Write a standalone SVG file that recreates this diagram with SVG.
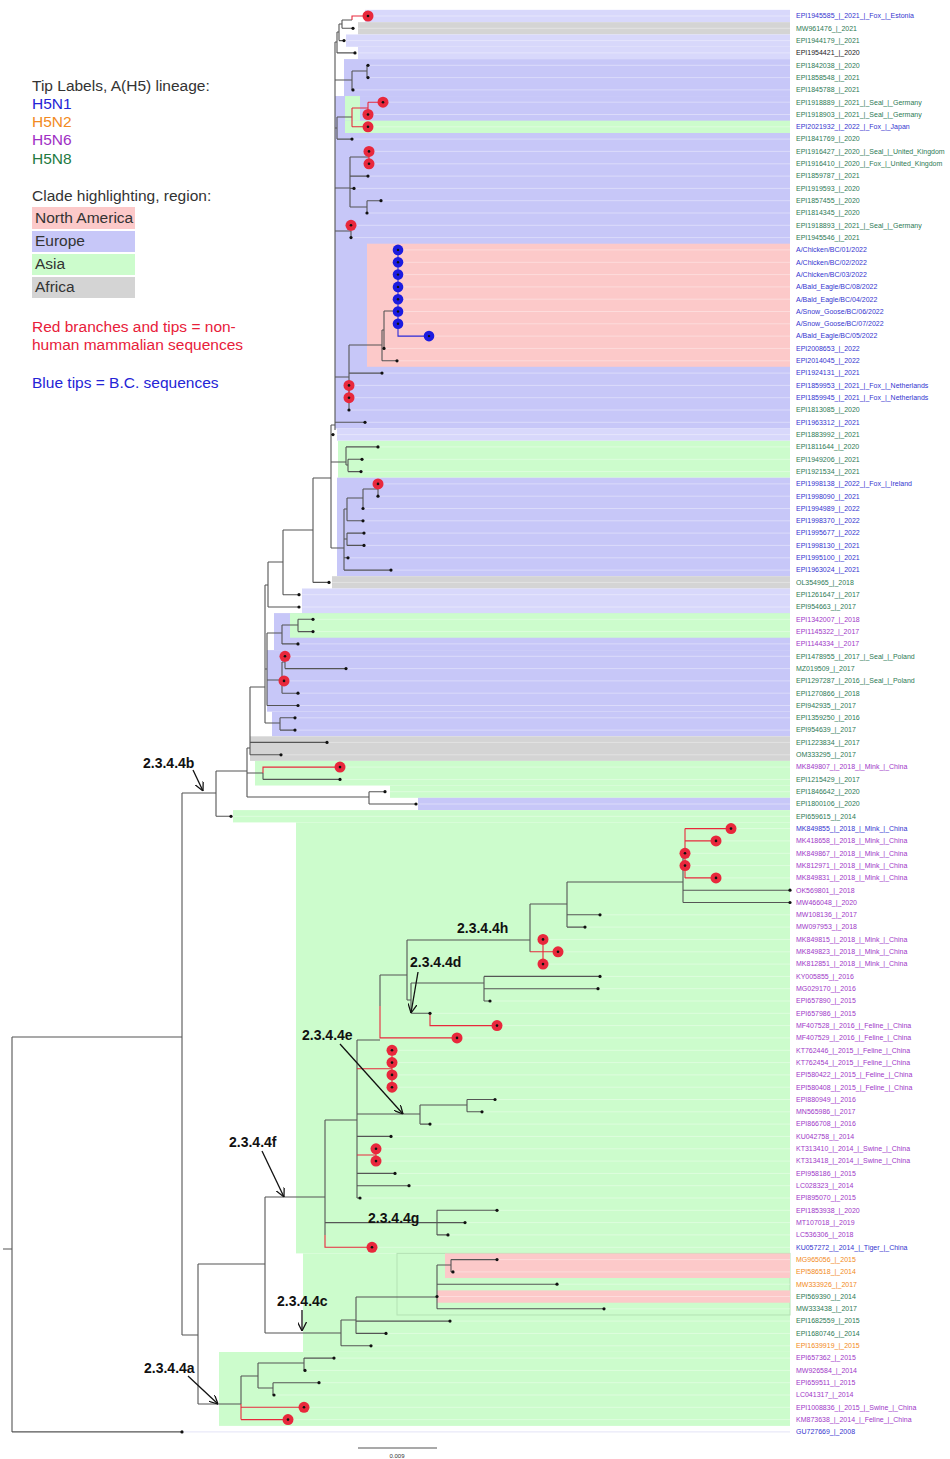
<svg xmlns="http://www.w3.org/2000/svg" width="950" height="1459" viewBox="0 0 950 1459">
<style>
.t{font-family:"Liberation Sans",Arial,sans-serif;font-size:7px}
.lg{font-family:"Liberation Sans",Arial,sans-serif;font-size:15.5px;fill:#333}
.cl{font-family:"Liberation Sans",Arial,sans-serif;font-size:14px;font-weight:bold;fill:#111}
.B{fill:#3535cf}.G{fill:#2e7a55}.P{fill:#a038c8}.O{fill:#f28a22}.K{fill:#222}
.E{fill:#c7c7f8}.L{fill:#d8d8fb}.A{fill:#ccfccc}.N{fill:#fcc9c9}.F{fill:#d4d4d4}
.k{fill:none;stroke:#555;stroke-width:1.1}
.r{fill:none;stroke:#e8283c;stroke-width:1.1}
.bl{fill:none;stroke:#2a2ad8;stroke-width:1.1}
.d{fill:#111}
.rc{fill:#e8283c}
.bc{fill:#1c1ce0}
.ar{fill:none;stroke:#111;stroke-width:1.3}
</style>
<defs>
<marker id="ah" viewBox="0 0 10 10" refX="10" refY="5" markerWidth="9" markerHeight="9" orient="auto" markerUnits="userSpaceOnUse"><path d="M0 0L10 5L0 10" fill="none" stroke="#111" stroke-width="1.4"/></marker>
</defs>
<rect width="950" height="1459" fill="#fff"/>
<g id="bands">
<rect class="L" x="365" y="9.85" width="425" height="12.31"/>
<rect class="F" x="358" y="22.16" width="432" height="12.31"/>
<rect class="L" x="346" y="34.47" width="444" height="12.31"/>
<rect class="L" x="358" y="46.78" width="432" height="12.31"/>
<rect class="E" x="344" y="59.1" width="446" height="36.94"/>
<rect class="E" x="335" y="96.04" width="455" height="332.4"/>
<rect class="A" x="345" y="96.04" width="15" height="24.62"/>
<rect class="A" x="345" y="120.66" width="445" height="12.31"/>
<rect class="N" x="367" y="243.7" width="423" height="123.1"/>
<rect class="L" x="337" y="428.4" width="453" height="12.31"/>
<rect class="A" x="338" y="440.8" width="452" height="36.94"/>
<rect class="E" x="337" y="477.7" width="453" height="98.5"/>
<rect class="F" x="332" y="576.2" width="458" height="12.31"/>
<rect class="L" x="302" y="588.5" width="488" height="24.62"/>
<rect class="E" x="274" y="613.1" width="516" height="36.94"/>
<rect class="A" x="290" y="613.1" width="500" height="24.62"/>
<rect class="E" x="267" y="650.1" width="523" height="61.56"/>
<rect class="E" x="272" y="711.7" width="518" height="24.62"/>
<rect class="F" x="250" y="736.3" width="540" height="24.62"/>
<rect class="A" x="255" y="760.9" width="535" height="24.62"/>
<rect class="A" x="390" y="785.5" width="400" height="12.31"/>
<rect class="E" x="418" y="797.8" width="372" height="12.31"/>
<rect class="A" x="233" y="810.1" width="557" height="12.31"/>
<rect class="A" x="296" y="822.4" width="494" height="431"/>
<rect class="A" x="303" y="1253.4" width="487" height="98.5"/>
<rect x="397" y="1253.4" width="393" height="61.56" fill="none" stroke="#b4e2b4" stroke-width="1"/>
<rect class="N" x="445" y="1253.4" width="345" height="24.62"/>
<rect class="N" x="437" y="1290.4" width="353" height="12.31"/>
<rect class="A" x="219" y="1352" width="571" height="73.9"/>
</g>
<g id="guides" stroke="#fff" stroke-opacity="0.45" stroke-width="0.8">
<path d="M368 16H790M353 28.3H790M344 40.6H790M355 52.9H790M368 65.3H790M368 77.6H790M353 89.9H790M383 102.2H790M368 114.5H790M368 126.8H790M352 139.1H790M369 151.4H790M369 163.8H790M368 176.1H790M354 188.4H790M381 200.7H790M367 213H790M351 225.3H790M351 237.6H790M398 249.9H790M398 262.3H790M398 274.6H790M398 286.9H790M398 299.2H790M398 311.5H790M398 323.8H790M429 336.1H790M384 348.4H790M397 360.8H790M382 373.1H790M349 385.4H790M349 397.7H790M349 410H790M365 422.3H790M333 434.6H790M378 446.9H790M362 459.3H790M361 471.6H790M378 483.9H790M378 496.2H790M363 508.5H790M363 520.8H790M364 533.1H790M364 545.4H790M348 557.8H790M391 570.1H790M329 582.4H790M299 594.7H790M299 607H790M313 619.3H790M313 631.6H790M298 643.9H790M285 656.3H790M346 668.6H790M284 680.9H790M298 693.2H790M298 705.5H790M295 717.8H790M295 730.1H790M327 742.4H790M281 754.8H790M340 767.1H790M340 779.4H790M385 791.7H790M416 804H790M231 816.3H790M731 828.6H790M716 840.9H790M685 853.3H790M685 865.6H790M716 877.9H790M600 914.8H790M585 927.1H790M543 939.4H790M558 951.8H790M543 964.1H790M600 976.4H790M598 988.7H790M490 1001H790M430 1013.3H790M497 1025.6H790M457 1037.9H790M392 1050.3H790M392 1062.6H790M392 1074.9H790M392 1087.2H790M495 1099.5H790M482 1111.8H790M430 1124.1H790M391 1136.4H790M376 1148.8H790M376 1161.1H790M395 1173.4H790M409 1185.7H790M360 1198H790M497 1210.3H790M465 1222.6H790M448 1234.9H790M372 1247.3H790M497 1259.6H790M453 1271.9H790M557 1284.2H790M437 1296.5H790M604 1308.8H790M450 1321.1H790M386 1333.4H790M371 1345.8H790M334 1358.1H790M305 1370.4H790M319 1382.7H790M274 1395H790M304 1407.3H790M288 1419.6H790"/>
<path d="M182 1431.9H790" stroke="#dcdcf4" stroke-opacity="1"/>
</g>
<g id="connectors">
<path class="k" d="M342 20V28.3M342 20H352M342 28.3H353M339 24V40.6M339 24H342M339 40.6H344M337 32V52.9M337 32H339M337 52.9H355M335 42V430M335 42H337M335 80H352M352 71V89.9M352 71H367M367 65.3V77.6M352 89.9H353M335 128H337M337 117V139.1M337 117H352M337 139.1H352M335 188H350M350 157V207M350 157H369M350 176.1H368M350 188.4H354M350 207H367M367 200.7V213M367 200.7H381M335 231H351M351 231V237.6M335 377H349M349 345V410M349 345H382M382 330V360.8M382 330H384M384 311V348.4M384 311H398M382 360.8H397M349 373.1H382M335 422.3H365M331 425V548M331 425H335M331 434.6H333M331 462H346M346 446.9V465M346 446.9H378M346 465H348M348 459.3V471.6M348 459.3H362M348 471.6H361M331 548H344M344 509V570.1M344 509H347M347 498V520.8M347 498H363M363 489V508.5M363 489H378M378 489V496.2M347 520.8H363M344 539H347M347 533.1V545.4M347 533.1H364M347 545.4H364M344 557.8H348M344 570.1H391M313 478V582.4M313 478H331M313 582.4H329M283 530V594.7M283 530H313M283 594.7H299M268 562V607M268 562H283M268 607H299M265 585V723M265 585H268M265 669H267M265 723H280M267 633V705.5M267 633H282M282 625V643.9M282 625H298M298 619.3V631.6M298 619.3H313M298 631.6H313M282 643.9H298M267 680H282M282 662V693.2M282 662H285M285 662V668.6M285 668.6H346M282 693.2H298M267 705.5H298M280 717.8V730.1M280 717.8H295M280 730.1H295M250 687V754.8M250 687H265M250 742.4H327M250 754.8H281M247 748V797M247 748H250M247 773H263M263 773V779.4M263 779.4H340M247 797H369M369 791.7V804M369 791.7H385M369 804H416M216 771V816.3M216 771H247M216 816.3H231M182 793V1335M182 793H216M182 1335H198M12 1037V1431.9M12 1037H182M3 1249H12M12 1431.9H182M198 1264V1404M198 1264H265M198 1404H241M265 1197V1333M265 1197H325M265 1333H341M341 1320V1345.8M341 1320H356M341 1345.8H371M356 1297V1333.4M356 1297H437M356 1321.1H450M356 1333.4H386M437 1265V1308.8M437 1265H451M451 1259.6V1271.9M451 1259.6H497M451 1271.9H453M437 1284.2H557M437 1308.8H604M241 1376V1404M241 1376H258M258 1363V1388M258 1363H304M304 1358.1V1370.4M304 1358.1H334M304 1370.4H305M258 1388H273M273 1382.7V1395M273 1382.7H319M273 1395H274M325 1120V1235M325 1120H357M325 1222.6H437M437 1210.3V1234.9M437 1210.3H497M437 1222.6H465M437 1234.9H448M357 1040V1198M357 1040H380M357 1114H420M420 1105V1124.1M420 1105H467M467 1099.5V1111.8M467 1099.5H495M467 1111.8H482M420 1124.1H430M357 1136.4H391M357 1173.4H395M357 1185.7H409M357 1198H360M380 975V1006M380 975H407M407 940V1000M407 940H530M407 1000H411M411 983V1013.3M411 983H484M484 976.4V1001M484 976.4H600M484 988.7H598M484 1001H490M411 1013.3H430M530 904V951.8M530 904H567M567 882V927.1M567 882H683M683 858V902.5M683 858H685M683 890.2H790M683 902.5H790M567 914.8H600M567 927.1H585"/>
<path class="r" d="M352 20V16H368M352 108V126.8M352 108H368M368 102.2V114.5M368 102.2H383M352 126.8H368M369 151.4V163.8M351 231V225.3M349 385.4V397.7M378 489V483.9M285 662V656.3M282 680.9H284M263 773V767.1H340M241 1404V1419.6M241 1407.3H304M241 1419.6H288M325 1235V1247.3H372M357 1068.7H392M392 1050.3V1087.2M357 1155H376M376 1148.8V1161.1M380 1006V1037.9H457M430 1013.3V1025.6H497M685 828.6V877.9M685 828.6H731M685 840.9H716M685 877.9H716M530 951.8H543M543 939.4V964.1M543 951.8H558"/>
<path class="bl" d="M398 249.9V336.1H429"/>
<path class="k" d="M358 1448H437"/>
<path class="ar" marker-end="url(#ah)" d="M193 770L203 791"/>
<path class="ar" marker-end="url(#ah)" d="M418 972L411 1013"/>
<path class="ar" marker-end="url(#ah)" d="M340 1044L403 1114"/>
<path class="ar" marker-end="url(#ah)" d="M262 1151L284 1197"/>
<path class="ar" marker-end="url(#ah)" d="M302 1310L302 1331"/>
<path class="ar" marker-end="url(#ah)" d="M188 1376L218 1404"/>
</g>
<g id="legend">
<text class="lg" x="32" y="91">Tip Labels, A(H5) lineage:</text>
<text class="lg" x="32" y="109" style="fill:#2424d6">H5N1</text>
<text class="lg" x="32" y="127" style="fill:#f28a22">H5N2</text>
<text class="lg" x="32" y="145" style="fill:#a030c4">H5N6</text>
<text class="lg" x="32" y="164" style="fill:#237a3f">H5N8</text>
<text class="lg" x="32" y="201">Clade highlighting, region:</text>
<rect class="N" x="32" y="207" width="103" height="22"/>
<rect class="E" x="32" y="231" width="103" height="21"/>
<rect class="A" x="32" y="254" width="103" height="21"/>
<rect class="F" x="32" y="277" width="103" height="21"/>
<text class="lg" x="35" y="223">North America</text>
<text class="lg" x="35" y="246">Europe</text>
<text class="lg" x="35" y="269">Asia</text>
<text class="lg" x="35" y="292">Africa</text>
<text class="lg" x="32" y="332" style="fill:#e8203a">Red branches and tips =  non-</text>
<text class="lg" x="32" y="350" style="fill:#e8203a">human mammalian sequences</text>
<text class="lg" x="32" y="388" style="fill:#2424d6">Blue tips = B.C. sequences</text>
</g>
<g id="clades">
<text class="cl" x="143" y="768">2.3.4.4b</text>
<text class="cl" x="457" y="933">2.3.4.4h</text>
<text class="cl" x="410" y="967">2.3.4.4d</text>
<text class="cl" x="302" y="1040">2.3.4.4e</text>
<text class="cl" x="229" y="1147">2.3.4.4f</text>
<text class="cl" x="368" y="1223">2.3.4.4g</text>
<text class="cl" x="277" y="1306">2.3.4.4c</text>
<text class="cl" x="144" y="1373">2.3.4.4a</text>
<text class="t" x="397" y="1458" text-anchor="middle" style="font-size:6px" fill="#333">0.009</text>
</g>
<g id="tips">
<g id="t1"><circle class="rc" cx="368" cy="16" r="5.5"/><circle class="d" cx="368" cy="16" r="1.3"/><text class="t B" x="796" y="18.3">EPI1945585_|_2021_|_Fox_|_Estonia</text></g>
<g id="t2"><circle class="d" cx="353" cy="28.3" r="1.6"/><text class="t G" x="796" y="30.6">MW961476_|_2021</text></g>
<g id="t3"><circle class="d" cx="344" cy="40.6" r="1.6"/><text class="t G" x="796" y="42.9">EPI1944179_|_2021</text></g>
<g id="t4"><circle class="d" cx="355" cy="52.9" r="1.6"/><text class="t K" x="796" y="55.2">EPI1954421_|_2020</text></g>
<g id="t5"><circle class="d" cx="368" cy="65.3" r="1.6"/><text class="t G" x="796" y="67.6">EPI1842038_|_2020</text></g>
<g id="t6"><circle class="d" cx="368" cy="77.6" r="1.6"/><text class="t G" x="796" y="79.9">EPI1858548_|_2021</text></g>
<g id="t7"><circle class="d" cx="353" cy="89.9" r="1.6"/><text class="t G" x="796" y="92.2">EPI1845788_|_2021</text></g>
<g id="t8"><circle class="rc" cx="383" cy="102.2" r="5.5"/><circle class="d" cx="383" cy="102.2" r="1.3"/><text class="t G" x="796" y="104.5">EPI1918889_|_2021_|_Seal_|_Germany</text></g>
<g id="t9"><circle class="rc" cx="368" cy="114.5" r="5.5"/><circle class="d" cx="368" cy="114.5" r="1.3"/><text class="t G" x="796" y="116.8">EPI1918903_|_2021_|_Seal_|_Germany</text></g>
<g id="t10"><circle class="rc" cx="368" cy="126.8" r="5.5"/><circle class="d" cx="368" cy="126.8" r="1.3"/><text class="t B" x="796" y="129.1">EPI2021932_|_2022_|_Fox_|_Japan</text></g>
<g id="t11"><circle class="d" cx="352" cy="139.1" r="1.6"/><text class="t G" x="796" y="141.4">EPI1841769_|_2020</text></g>
<g id="t12"><circle class="rc" cx="369" cy="151.4" r="5.5"/><circle class="d" cx="369" cy="151.4" r="1.3"/><text class="t G" x="796" y="153.7">EPI1916427_|_2020_|_Seal_|_United_Kingdom</text></g>
<g id="t13"><circle class="rc" cx="369" cy="163.8" r="5.5"/><circle class="d" cx="369" cy="163.8" r="1.3"/><text class="t G" x="796" y="166.1">EPI1916410_|_2020_|_Fox_|_United_Kingdom</text></g>
<g id="t14"><circle class="d" cx="368" cy="176.1" r="1.6"/><text class="t G" x="796" y="178.4">EPI1859787_|_2021</text></g>
<g id="t15"><circle class="d" cx="354" cy="188.4" r="1.6"/><text class="t G" x="796" y="190.7">EPI1919593_|_2020</text></g>
<g id="t16"><circle class="d" cx="381" cy="200.7" r="1.6"/><text class="t G" x="796" y="203">EPI1857455_|_2020</text></g>
<g id="t17"><circle class="d" cx="367" cy="213" r="1.6"/><text class="t G" x="796" y="215.3">EPI1814345_|_2020</text></g>
<g id="t18"><circle class="rc" cx="351" cy="225.3" r="5.5"/><circle class="d" cx="351" cy="225.3" r="1.3"/><text class="t G" x="796" y="227.6">EPI1918893_|_2021_|_Seal_|_Germany</text></g>
<g id="t19"><circle class="d" cx="351" cy="237.6" r="1.6"/><text class="t G" x="796" y="239.9">EPI1945546_|_2021</text></g>
<g id="t20"><circle class="bc" cx="398" cy="249.9" r="5.3"/><circle class="d" cx="398" cy="249.9" r="1.2"/><text class="t B" x="796" y="252.2">A/Chicken/BC/01/2022</text></g>
<g id="t21"><circle class="bc" cx="398" cy="262.3" r="5.3"/><circle class="d" cx="398" cy="262.3" r="1.2"/><text class="t B" x="796" y="264.6">A/Chicken/BC/02/2022</text></g>
<g id="t22"><circle class="bc" cx="398" cy="274.6" r="5.3"/><circle class="d" cx="398" cy="274.6" r="1.2"/><text class="t B" x="796" y="276.9">A/Chicken/BC/03/2022</text></g>
<g id="t23"><circle class="bc" cx="398" cy="286.9" r="5.3"/><circle class="d" cx="398" cy="286.9" r="1.2"/><text class="t B" x="796" y="289.2">A/Bald_Eagle/BC/08/2022</text></g>
<g id="t24"><circle class="bc" cx="398" cy="299.2" r="5.3"/><circle class="d" cx="398" cy="299.2" r="1.2"/><text class="t B" x="796" y="301.5">A/Bald_Eagle/BC/04/2022</text></g>
<g id="t25"><circle class="bc" cx="398" cy="311.5" r="5.3"/><circle class="d" cx="398" cy="311.5" r="1.2"/><text class="t B" x="796" y="313.8">A/Snow_Goose/BC/06/2022</text></g>
<g id="t26"><circle class="bc" cx="398" cy="323.8" r="5.3"/><circle class="d" cx="398" cy="323.8" r="1.2"/><text class="t B" x="796" y="326.1">A/Snow_Goose/BC/07/2022</text></g>
<g id="t27"><circle class="bc" cx="429" cy="336.1" r="5.3"/><circle class="d" cx="429" cy="336.1" r="1.2"/><text class="t B" x="796" y="338.4">A/Bald_Eagle/BC/05/2022</text></g>
<g id="t28"><circle class="d" cx="384" cy="348.4" r="1.6"/><text class="t B" x="796" y="350.7">EPI2008653_|_2022</text></g>
<g id="t29"><circle class="d" cx="397" cy="360.8" r="1.6"/><text class="t B" x="796" y="363.1">EPI2014045_|_2022</text></g>
<g id="t30"><circle class="d" cx="382" cy="373.1" r="1.6"/><text class="t B" x="796" y="375.4">EPI1924131_|_2021</text></g>
<g id="t31"><circle class="rc" cx="349" cy="385.4" r="5.5"/><circle class="d" cx="349" cy="385.4" r="1.3"/><text class="t B" x="796" y="387.7">EPI1859953_|_2021_|_Fox_|_Netherlands</text></g>
<g id="t32"><circle class="rc" cx="349" cy="397.7" r="5.5"/><circle class="d" cx="349" cy="397.7" r="1.3"/><text class="t B" x="796" y="400">EPI1859945_|_2021_|_Fox_|_Netherlands</text></g>
<g id="t33"><circle class="d" cx="349" cy="410" r="1.6"/><text class="t G" x="796" y="412.3">EPI1813085_|_2020</text></g>
<g id="t34"><circle class="d" cx="365" cy="422.3" r="1.6"/><text class="t B" x="796" y="424.6">EPI1963312_|_2021</text></g>
<g id="t35"><circle class="d" cx="333" cy="434.6" r="1.6"/><text class="t G" x="796" y="436.9">EPI1883992_|_2021</text></g>
<g id="t36"><circle class="d" cx="378" cy="446.9" r="1.6"/><text class="t G" x="796" y="449.2">EPI1811644_|_2020</text></g>
<g id="t37"><circle class="d" cx="362" cy="459.3" r="1.6"/><text class="t G" x="796" y="461.6">EPI1949206_|_2021</text></g>
<g id="t38"><circle class="d" cx="361" cy="471.6" r="1.6"/><text class="t G" x="796" y="473.9">EPI1921534_|_2021</text></g>
<g id="t39"><circle class="rc" cx="378" cy="483.9" r="5.5"/><circle class="d" cx="378" cy="483.9" r="1.3"/><text class="t B" x="796" y="486.2">EPI1998138_|_2022_|_Fox_|_Ireland</text></g>
<g id="t40"><circle class="d" cx="378" cy="496.2" r="1.6"/><text class="t B" x="796" y="498.5">EPI1998090_|_2021</text></g>
<g id="t41"><circle class="d" cx="363" cy="508.5" r="1.6"/><text class="t B" x="796" y="510.8">EPI1994989_|_2022</text></g>
<g id="t42"><circle class="d" cx="363" cy="520.8" r="1.6"/><text class="t B" x="796" y="523.1">EPI1998370_|_2022</text></g>
<g id="t43"><circle class="d" cx="364" cy="533.1" r="1.6"/><text class="t B" x="796" y="535.4">EPI1995677_|_2022</text></g>
<g id="t44"><circle class="d" cx="364" cy="545.4" r="1.6"/><text class="t B" x="796" y="547.7">EPI1998130_|_2021</text></g>
<g id="t45"><circle class="d" cx="348" cy="557.8" r="1.6"/><text class="t B" x="796" y="560.1">EPI1995100_|_2021</text></g>
<g id="t46"><circle class="d" cx="391" cy="570.1" r="1.6"/><text class="t B" x="796" y="572.4">EPI1963024_|_2021</text></g>
<g id="t47"><circle class="d" cx="329" cy="582.4" r="1.6"/><text class="t G" x="796" y="584.7">OL354965_|_2018</text></g>
<g id="t48"><circle class="d" cx="299" cy="594.7" r="1.6"/><text class="t G" x="796" y="597">EPI1261647_|_2017</text></g>
<g id="t49"><circle class="d" cx="299" cy="607" r="1.6"/><text class="t G" x="796" y="609.3">EPI954663_|_2017</text></g>
<g id="t50"><circle class="d" cx="313" cy="619.3" r="1.6"/><text class="t P" x="796" y="621.6">EPI1342007_|_2018</text></g>
<g id="t51"><circle class="d" cx="313" cy="631.6" r="1.6"/><text class="t P" x="796" y="633.9">EPI1145322_|_2017</text></g>
<g id="t52"><circle class="d" cx="298" cy="643.9" r="1.6"/><text class="t P" x="796" y="646.2">EPI1144334_|_2017</text></g>
<g id="t53"><circle class="rc" cx="285" cy="656.3" r="5.5"/><circle class="d" cx="285" cy="656.3" r="1.3"/><text class="t G" x="796" y="658.6">EPI1478955_|_2017_|_Seal_|_Poland</text></g>
<g id="t54"><circle class="d" cx="346" cy="668.6" r="1.6"/><text class="t G" x="796" y="670.9">MZ019509_|_2017</text></g>
<g id="t55"><circle class="rc" cx="284" cy="680.9" r="5.5"/><circle class="d" cx="284" cy="680.9" r="1.3"/><text class="t G" x="796" y="683.2">EPI1297287_|_2016_|_Seal_|_Poland</text></g>
<g id="t56"><circle class="d" cx="298" cy="693.2" r="1.6"/><text class="t G" x="796" y="695.5">EPI1270866_|_2018</text></g>
<g id="t57"><circle class="d" cx="298" cy="705.5" r="1.6"/><text class="t G" x="796" y="707.8">EPI942935_|_2017</text></g>
<g id="t58"><circle class="d" cx="295" cy="717.8" r="1.6"/><text class="t G" x="796" y="720.1">EPI1359250_|_2016</text></g>
<g id="t59"><circle class="d" cx="295" cy="730.1" r="1.6"/><text class="t G" x="796" y="732.4">EPI954639_|_2017</text></g>
<g id="t60"><circle class="d" cx="327" cy="742.4" r="1.6"/><text class="t G" x="796" y="744.7">EPI1223834_|_2017</text></g>
<g id="t61"><circle class="d" cx="281" cy="754.8" r="1.6"/><text class="t G" x="796" y="757.1">OM333295_|_2017</text></g>
<g id="t62"><circle class="rc" cx="340" cy="767.1" r="5.5"/><circle class="d" cx="340" cy="767.1" r="1.3"/><text class="t P" x="796" y="769.4">MK849807_|_2018_|_Mink_|_China</text></g>
<g id="t63"><circle class="d" cx="340" cy="779.4" r="1.6"/><text class="t G" x="796" y="781.7">EPI1215429_|_2017</text></g>
<g id="t64"><circle class="d" cx="385" cy="791.7" r="1.6"/><text class="t G" x="796" y="794">EPI1846642_|_2020</text></g>
<g id="t65"><circle class="d" cx="416" cy="804" r="1.6"/><text class="t G" x="796" y="806.3">EPI1800106_|_2020</text></g>
<g id="t66"><circle class="d" cx="231" cy="816.3" r="1.6"/><text class="t G" x="796" y="818.6">EPI659615_|_2014</text></g>
<g id="t67"><circle class="rc" cx="731" cy="828.6" r="5.5"/><circle class="d" cx="731" cy="828.6" r="1.3"/><text class="t B" x="796" y="830.9">MK849855_|_2018_|_Mink_|_China</text></g>
<g id="t68"><circle class="rc" cx="716" cy="840.9" r="5.5"/><circle class="d" cx="716" cy="840.9" r="1.3"/><text class="t P" x="796" y="843.2">MK418658_|_2018_|_Mink_|_China</text></g>
<g id="t69"><circle class="rc" cx="685" cy="853.3" r="5.5"/><circle class="d" cx="685" cy="853.3" r="1.3"/><text class="t P" x="796" y="855.6">MK849867_|_2018_|_Mink_|_China</text></g>
<g id="t70"><circle class="rc" cx="685" cy="865.6" r="5.5"/><circle class="d" cx="685" cy="865.6" r="1.3"/><text class="t P" x="796" y="867.9">MK812971_|_2018_|_Mink_|_China</text></g>
<g id="t71"><circle class="rc" cx="716" cy="877.9" r="5.5"/><circle class="d" cx="716" cy="877.9" r="1.3"/><text class="t P" x="796" y="880.2">MK849831_|_2018_|_Mink_|_China</text></g>
<g id="t72"><circle class="d" cx="790" cy="890.2" r="1.6"/><text class="t P" x="796" y="892.5">OK569801_|_2018</text></g>
<g id="t73"><circle class="d" cx="790" cy="902.5" r="1.6"/><text class="t P" x="796" y="904.8">MW466048_|_2020</text></g>
<g id="t74"><circle class="d" cx="600" cy="914.8" r="1.6"/><text class="t P" x="796" y="917.1">MW108136_|_2017</text></g>
<g id="t75"><circle class="d" cx="585" cy="927.1" r="1.6"/><text class="t P" x="796" y="929.4">MW097953_|_2018</text></g>
<g id="t76"><circle class="rc" cx="543" cy="939.4" r="5.5"/><circle class="d" cx="543" cy="939.4" r="1.3"/><text class="t P" x="796" y="941.7">MK849815_|_2018_|_Mink_|_China</text></g>
<g id="t77"><circle class="rc" cx="558" cy="951.8" r="5.5"/><circle class="d" cx="558" cy="951.8" r="1.3"/><text class="t P" x="796" y="954.1">MK849823_|_2018_|_Mink_|_China</text></g>
<g id="t78"><circle class="rc" cx="543" cy="964.1" r="5.5"/><circle class="d" cx="543" cy="964.1" r="1.3"/><text class="t P" x="796" y="966.4">MK812851_|_2018_|_Mink_|_China</text></g>
<g id="t79"><circle class="d" cx="600" cy="976.4" r="1.6"/><text class="t P" x="796" y="978.7">KY005855_|_2016</text></g>
<g id="t80"><circle class="d" cx="598" cy="988.7" r="1.6"/><text class="t P" x="796" y="991">MG029170_|_2016</text></g>
<g id="t81"><circle class="d" cx="490" cy="1001" r="1.6"/><text class="t P" x="796" y="1003.3">EPI657890_|_2015</text></g>
<g id="t82"><circle class="d" cx="430" cy="1013.3" r="1.6"/><text class="t P" x="796" y="1015.6">EPI657986_|_2015</text></g>
<g id="t83"><circle class="rc" cx="497" cy="1025.6" r="5.5"/><circle class="d" cx="497" cy="1025.6" r="1.3"/><text class="t P" x="796" y="1027.9">MF407528_|_2016_|_Feline_|_China</text></g>
<g id="t84"><circle class="rc" cx="457" cy="1037.9" r="5.5"/><circle class="d" cx="457" cy="1037.9" r="1.3"/><text class="t P" x="796" y="1040.2">MF407529_|_2016_|_Feline_|_China</text></g>
<g id="t85"><circle class="rc" cx="392" cy="1050.3" r="5.5"/><circle class="d" cx="392" cy="1050.3" r="1.3"/><text class="t P" x="796" y="1052.6">KT762446_|_2015_|_Feline_|_China</text></g>
<g id="t86"><circle class="rc" cx="392" cy="1062.6" r="5.5"/><circle class="d" cx="392" cy="1062.6" r="1.3"/><text class="t P" x="796" y="1064.9">KT762454_|_2015_|_Feline_|_China</text></g>
<g id="t87"><circle class="rc" cx="392" cy="1074.9" r="5.5"/><circle class="d" cx="392" cy="1074.9" r="1.3"/><text class="t P" x="796" y="1077.2">EPI580422_|_2015_|_Feline_|_China</text></g>
<g id="t88"><circle class="rc" cx="392" cy="1087.2" r="5.5"/><circle class="d" cx="392" cy="1087.2" r="1.3"/><text class="t P" x="796" y="1089.5">EPI580408_|_2015_|_Feline_|_China</text></g>
<g id="t89"><circle class="d" cx="495" cy="1099.5" r="1.6"/><text class="t P" x="796" y="1101.8">EPI880949_|_2016</text></g>
<g id="t90"><circle class="d" cx="482" cy="1111.8" r="1.6"/><text class="t P" x="796" y="1114.1">MN565986_|_2017</text></g>
<g id="t91"><circle class="d" cx="430" cy="1124.1" r="1.6"/><text class="t P" x="796" y="1126.4">EPI866708_|_2016</text></g>
<g id="t92"><circle class="d" cx="391" cy="1136.4" r="1.6"/><text class="t P" x="796" y="1138.7">KU042758_|_2014</text></g>
<g id="t93"><circle class="rc" cx="376" cy="1148.8" r="5.5"/><circle class="d" cx="376" cy="1148.8" r="1.3"/><text class="t P" x="796" y="1151.1">KT313410_|_2014_|_Swine_|_China</text></g>
<g id="t94"><circle class="rc" cx="376" cy="1161.1" r="5.5"/><circle class="d" cx="376" cy="1161.1" r="1.3"/><text class="t P" x="796" y="1163.4">KT313418_|_2014_|_Swine_|_China</text></g>
<g id="t95"><circle class="d" cx="395" cy="1173.4" r="1.6"/><text class="t P" x="796" y="1175.7">EPI958186_|_2015</text></g>
<g id="t96"><circle class="d" cx="409" cy="1185.7" r="1.6"/><text class="t P" x="796" y="1188">LC028323_|_2014</text></g>
<g id="t97"><circle class="d" cx="360" cy="1198" r="1.6"/><text class="t P" x="796" y="1200.3">EPI895070_|_2015</text></g>
<g id="t98"><circle class="d" cx="497" cy="1210.3" r="1.6"/><text class="t P" x="796" y="1212.6">EPI1853938_|_2020</text></g>
<g id="t99"><circle class="d" cx="465" cy="1222.6" r="1.6"/><text class="t P" x="796" y="1224.9">MT107018_|_2019</text></g>
<g id="t100"><circle class="d" cx="448" cy="1234.9" r="1.6"/><text class="t P" x="796" y="1237.2">LC536306_|_2018</text></g>
<g id="t101"><circle class="rc" cx="372" cy="1247.3" r="5.5"/><circle class="d" cx="372" cy="1247.3" r="1.3"/><text class="t B" x="796" y="1249.6">KU057272_|_2014_|_Tiger_|_China</text></g>
<g id="t102"><circle class="d" cx="497" cy="1259.6" r="1.6"/><text class="t O" x="796" y="1261.9">MG965056_|_2015</text></g>
<g id="t103"><circle class="d" cx="453" cy="1271.9" r="1.6"/><text class="t O" x="796" y="1274.2">EPI586518_|_2014</text></g>
<g id="t104"><circle class="d" cx="557" cy="1284.2" r="1.6"/><text class="t O" x="796" y="1286.5">MW333926_|_2017</text></g>
<g id="t105"><circle class="d" cx="437" cy="1296.5" r="1.6"/><text class="t G" x="796" y="1298.8">EPI569390_|_2014</text></g>
<g id="t106"><circle class="d" cx="604" cy="1308.8" r="1.6"/><text class="t G" x="796" y="1311.1">MW333438_|_2017</text></g>
<g id="t107"><circle class="d" cx="450" cy="1321.1" r="1.6"/><text class="t G" x="796" y="1323.4">EPI1682559_|_2015</text></g>
<g id="t108"><circle class="d" cx="386" cy="1333.4" r="1.6"/><text class="t G" x="796" y="1335.7">EPI1680746_|_2014</text></g>
<g id="t109"><circle class="d" cx="371" cy="1345.8" r="1.6"/><text class="t O" x="796" y="1348.1">EPI1639919_|_2015</text></g>
<g id="t110"><circle class="d" cx="334" cy="1358.1" r="1.6"/><text class="t P" x="796" y="1360.4">EPI657362_|_2015</text></g>
<g id="t111"><circle class="d" cx="305" cy="1370.4" r="1.6"/><text class="t P" x="796" y="1372.7">MW926584_|_2014</text></g>
<g id="t112"><circle class="d" cx="319" cy="1382.7" r="1.6"/><text class="t P" x="796" y="1385">EPI659511_|_2015</text></g>
<g id="t113"><circle class="d" cx="274" cy="1395" r="1.6"/><text class="t P" x="796" y="1397.3">LC041317_|_2014</text></g>
<g id="t114"><circle class="rc" cx="304" cy="1407.3" r="5.5"/><circle class="d" cx="304" cy="1407.3" r="1.3"/><text class="t P" x="796" y="1409.6">EPI1008836_|_2015_|_Swine_|_China</text></g>
<g id="t115"><circle class="rc" cx="288" cy="1419.6" r="5.5"/><circle class="d" cx="288" cy="1419.6" r="1.3"/><text class="t P" x="796" y="1421.9">KM873638_|_2014_|_Feline_|_China</text></g>
<g id="t116"><circle class="d" cx="182" cy="1431.9" r="1.6"/><text class="t B" x="796" y="1434.2">GU727669_|_2008</text></g>
</g>
</svg>
